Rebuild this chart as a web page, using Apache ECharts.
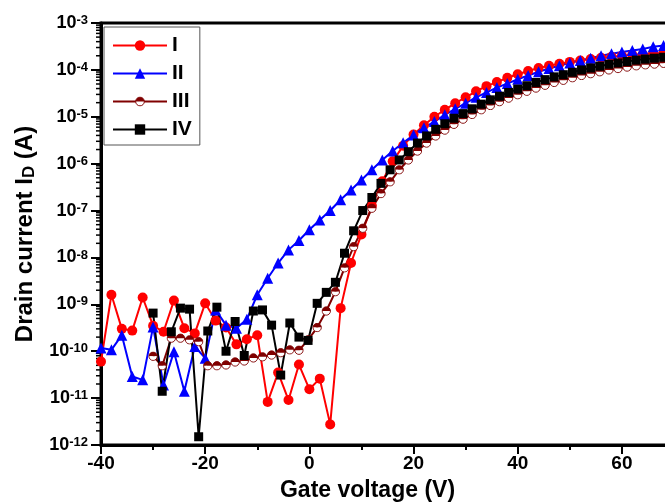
<!DOCTYPE html>
<html>
<head>
<meta charset="utf-8">
<script src="https://cdn.jsdelivr.net/npm/echarts@6/dist/echarts.min.js"></script>
<style>html,body{margin:0;padding:0;background:#fff}#c{width:665px;height:503px}</style>
</head>
<body>
<div id="c"></div>
<script>
// Gate voltage grids (V)
const xRB = [-40,-38,-36,-34,-32,-30,-28,-26,-24,-22,-20,-18,-16,-14,-12,-10,-8,-6,-4,-2,0,2,4,6,8,10,12,14,16,18,20,22,24,26,28,30,32,34,36,38,40,42,44,46,48,50,52,54,56,58,60,62,64,66,68];
const xBk = [-30,-28.25,-26.5,-24.75,-23,-21.25,-19.5,-17.75,-16,-14.25,-12.5,-10.75,-9,-7.25,-5.5,-3.75,-2,-0.25,1.5,3.25,5,6.75,8.5,10.25,12,13.75,15.5,17.25,19,20.75,22.5,24.25,26,27.75,29.5,31.25,33,34.75,36.5,38.25,40,41.75,43.5,45.25,47,48.75,50.5,52.25,54,55.75,57.5,59.25,61,62.75,64.5,66.25,68];

// Drain current (A)
const I1 = [6.0e-11,1.6e-9,3.0e-10,2.75e-10,1.4e-9,3.5e-10,2.6e-10,1.2e-9,3.1e-10,2.4e-10,1.05e-9,4.5e-10,3.2e-10,1.4e-10,1.8e-10,2.2e-10,8.3e-12,3.5e-11,9.1e-12,5.2e-11,1.55e-11,2.6e-11,2.75e-12,8.3e-10,7.6e-9,3.1e-8,1.26e-7,4.2e-7,1.12e-6,2.4e-6,4.2e-6,6.6e-6,1.0e-5,1.41e-5,1.95e-5,2.6e-5,3.5e-5,4.5e-5,5.5e-5,6.8e-5,8.1e-5,9.5e-5,1.1e-4,1.23e-4,1.35e-4,1.48e-4,1.58e-4,1.7e-4,1.82e-4,1.9e-4,2.0e-4,2.1e-4,2.15e-4,2.25e-4,2.3e-4];
const I2 = [1.17e-10,1.07e-10,2.2e-10,2.9e-11,2.45e-11,3.3e-10,1.9e-11,9.8e-11,1.4e-11,1.26e-10,7.1e-11,7.6e-10,3.6e-10,3.1e-10,4.8e-10,1.6e-9,3.6e-9,7.6e-9,1.45e-8,2.3e-8,3.9e-8,6.3e-8,1.0e-7,1.7e-7,2.75e-7,4.5e-7,7.4e-7,1.2e-6,1.86e-6,2.8e-6,4.1e-6,5.8e-6,7.9e-6,1.1e-5,1.48e-5,1.95e-5,2.6e-5,3.3e-5,4.2e-5,5.1e-5,6.3e-5,7.6e-5,9.1e-5,1.07e-4,1.23e-4,1.41e-4,1.58e-4,1.78e-4,2.0e-4,2.2e-4,2.4e-4,2.6e-4,2.8e-4,3.1e-4,3.3e-4];
const I3 = [7.8e-11,4.9e-11,1.9e-10,1.9e-10,1.75e-10,1.6e-10,4.9e-11,4.9e-11,5.1e-11,5.9e-11,6.2e-11,7.2e-11,7.6e-11,8.3e-11,9.3e-11,1.07e-10,1.05e-10,1.75e-10,3.2e-10,7.2e-10,1.86e-9,6.0e-9,1.7e-8,4.2e-8,1.12e-7,2.3e-7,4.1e-7,7.4e-7,1.2e-6,1.86e-6,2.75e-6,3.9e-6,5.2e-6,6.9e-6,8.9e-6,1.12e-5,1.41e-5,1.74e-5,2.1e-5,2.5e-5,2.95e-5,3.5e-5,4.1e-5,4.7e-5,5.4e-5,6.0e-5,6.8e-5,7.6e-5,8.3e-5,9.1e-5,1.0e-4,1.07e-4,1.15e-4,1.22e-4,1.28e-4,1.33e-4,1.38e-4];
const I4 = [6.5e-10,1.4e-11,2.6e-10,8.3e-10,7.9e-10,1.5e-12,2.7e-10,8.7e-10,1.0e-10,4.3e-10,8.1e-11,7.2e-10,7.6e-10,3.6e-10,3.1e-11,4.0e-10,2.0e-10,1.7e-10,1.05e-9,1.8e-9,2.95e-9,1.23e-8,3.7e-8,1.0e-7,1.9e-7,3.8e-7,7.4e-7,1.2e-6,1.8e-6,2.75e-6,3.9e-6,5.4e-6,7.1e-6,9.3e-6,1.17e-5,1.48e-5,1.86e-5,2.3e-5,2.75e-5,3.3e-5,3.9e-5,4.6e-5,5.4e-5,6.2e-5,7.1e-5,7.9e-5,8.9e-5,1.0e-4,1.1e-4,1.2e-4,1.32e-4,1.41e-4,1.51e-4,1.62e-4,1.7e-4,1.78e-4,1.86e-4];

const seriesNames = ['I','II','III','IV'];
const xTicks = [-40,-20,0,20,40,60];

const FONT = 'Liberation Sans, Arial, sans-serif';
const X_MIN = -40, X_MAX = 70, Y_MIN = 1e-12, Y_MAX = 1e-3;

const halfSvg = "<svg xmlns='http://www.w3.org/2000/svg' width='24' height='24' viewBox='0 0 24 24'>" +
  "<path d='M2,12 A10,10 0 0 1 22,12 Z' fill='#800000'/>" +
  "<path d='M2,12 A10,10 0 0 0 22,12 Z' fill='#ffffff'/>" +
  "<circle cx='12' cy='12' r='10' fill='none' stroke='#800000' stroke-width='2.2'/></svg>";
const halfSymbol = 'image://data:image/svg+xml;charset=utf-8,' + encodeURIComponent(halfSvg);

const pairs = (xs, ys) => xs.map((x, i) => [x, ys[i]]);

// minor log ticks positions (2..9 x 10^k)
const minorTicks = [];
for (let k = -12; k < -3; k++) for (let m = 2; m <= 9; m++) minorTicks.push([X_MIN, m * Math.pow(10, k)]);

const chart = echarts.init(document.getElementById('c'));
chart.setOption({
  backgroundColor: '#fff',
  animation: false,
  grid: { left: 101, top: 23, width: 573, bottom: 58, outerBoundsMode: 'none', containLabel: false,
          show: true, borderColor: '#000', borderWidth: 3, backgroundColor: 'transparent' },
  legend: {
    data: seriesNames,
    orient: 'vertical', left: 104, top: 27,
    padding: [8, 8, 5, 8],
    itemWidth: 54, itemHeight: 13, itemGap: 7,
    borderColor: '#555', borderWidth: 1,
    selectedMode: false,
    textStyle: { fontFamily: FONT, fontWeight: 'bold', fontSize: 21, color: '#000' }
  },
  xAxis: {
    type: 'value', min: X_MIN, max: X_MAX, interval: 20,
    name: 'Gate voltage (V)', nameLocation: 'middle', nameGap: 34,
    nameTextStyle: { fontFamily: FONT, fontWeight: 'bold', fontSize: 23, color: '#000', padding: [0, 40, 0, 0] },
    axisLine: { onZero: false, lineStyle: { color: '#000', width: 3 } },
    axisTick: { show: true, inside: false, length: 9, lineStyle: { color: '#000', width: 2 } },
    minorTick: { show: true, splitNumber: 2, length: 5, lineStyle: { color: '#000', width: 2 } },
    splitLine: { show: false },
    axisLabel: { showMaxLabel: false, margin: 9, fontFamily: FONT, fontWeight: 'bold', fontSize: 19, color: '#000' }
  },
  yAxis: {
    type: 'log', logBase: 10, min: Y_MIN, max: Y_MAX, interval: 1,
    name: '{a|Drain current I}{d|D}{a| (A)}', nameLocation: 'middle', nameGap: 58,
    nameTextStyle: {
      rich: {
        a: { fontFamily: FONT, fontWeight: 'bold', fontSize: 24, color: '#000', verticalAlign: 'top', lineHeight: 25 },
        d: { fontFamily: FONT, fontWeight: 'bold', fontSize: 17, color: '#000', verticalAlign: 'bottom', lineHeight: 17, padding: [12, 0, 0, 0] }
      }
    },
    axisLine: { onZero: false, lineStyle: { color: '#000', width: 3 } },
    axisTick: { show: true, inside: false, length: 10, lineStyle: { color: '#000', width: 2 } },
    splitLine: { show: false },
    axisLabel: {
      margin: 13,
      formatter: v => '{b|10}{s|' + Math.round(Math.log10(v)) + '}',
      rich: {
        b: { fontFamily: FONT, fontWeight: 'bold', fontSize: 18, color: '#000', lineHeight: 18, padding: [7, 0, 0, 0], verticalAlign: 'bottom' },
        s: { fontFamily: FONT, fontWeight: 'bold', fontSize: 13, color: '#000', lineHeight: 13, verticalAlign: 'top' }
      }
    }
  },
  series: [
    { name: 'I', type: 'line', data: pairs(xRB, I1), symbol: 'circle', symbolSize: 10,
      lineStyle: { color: '#ff0000', width: 2 }, itemStyle: { color: '#ff0000' }, color: '#ff0000' },
    { name: 'II', type: 'line', data: pairs(xRB, I2), symbol: 'triangle', symbolSize: 11,
      lineStyle: { color: '#0000ff', width: 2 }, itemStyle: { color: '#0000ff' }, color: '#0000ff' },
    { name: 'III', type: 'line', data: pairs(xBk, I3), symbol: halfSymbol, symbolSize: 10,
      lineStyle: { color: '#800000', width: 2 }, itemStyle: { color: '#800000' }, color: '#800000' },
    { name: 'IV', type: 'line', data: pairs(xBk, I4), symbol: 'rect', symbolSize: 9,
      lineStyle: { color: '#000', width: 2 }, itemStyle: { color: '#000' }, color: '#000' },
    { name: 'minorTicks', type: 'custom', silent: true, clip: false, data: minorTicks,
      renderItem: (params, api) => {
        const p = api.coord([api.value(0), api.value(1)]);
        return { type: 'line', shape: { x1: p[0] - 5, y1: p[1], x2: p[0], y2: p[1] }, style: { stroke: '#000', lineWidth: 1.5 } };
      } }
  ]
});
</script>
</body>
</html>
